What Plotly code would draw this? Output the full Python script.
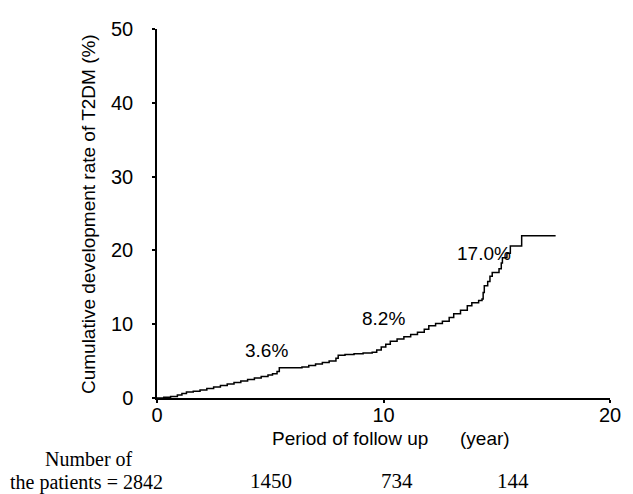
import plotly.graph_objects as go

# Kaplan-Meier style cumulative incidence (step curve)
years = [0, 0.3, 0.6, 0.9, 1.1, 1.3, 1.6, 1.9, 2.2, 2.5, 2.8, 3.1, 3.4, 3.7, 4.0, 4.3,
         4.6, 4.9, 5.1, 5.3, 5.4, 6.0, 6.4, 6.7, 7.0, 7.3, 7.6, 7.9, 8.0, 8.3, 8.7,
         9.1, 9.5, 9.7, 9.9, 10.1, 10.3, 10.6, 10.9, 11.2, 11.5, 11.8, 12.0, 12.3,
         12.6, 12.9, 13.1, 13.4, 13.7, 13.9, 14.2, 14.35, 14.4, 14.45, 14.6, 14.7,
         14.8, 15.1, 15.2, 15.25, 15.45, 15.6, 16.1, 17.6]
rate = [0, 0.1, 0.2, 0.4, 0.6, 0.8, 0.9, 1.1, 1.3, 1.5, 1.7, 1.9, 2.1, 2.3, 2.5, 2.7,
        2.9, 3.1, 3.3, 3.6, 4.1, 4.1, 4.2, 4.4, 4.6, 4.8, 5.0, 5.4, 5.8, 5.9, 6.0,
        6.1, 6.2, 6.5, 6.9, 7.3, 7.7, 8.0, 8.3, 8.6, 8.9, 9.3, 9.8, 10.1,
        10.4, 10.9, 11.4, 11.9, 12.5, 12.9, 13.2, 13.4, 14.3, 15.2, 15.8, 16.5,
        17.0, 17.5, 18.3, 19.0, 19.6, 20.6, 22.0, 22.0]

x_ticks = [0, 10, 20]
y_ticks = [0, 10, 20, 30, 40, 50]

label_texts = ["3.6%", "8.2%", "17.0%"]
label_x = [4.82, 9.98, 14.45]
label_y = [6.4, 10.8, 19.6]

patients_label = ["Number of", "the patients = 2842"]
patients_counts = ["1450", "734", "144"]
patients_count_x = [273, 401, 519]

fig = go.Figure()
fig.add_trace(go.Scatter(x=years, y=rate, mode="lines", line_shape="hv",
                         line=dict(color="black", width=1.5), showlegend=False,
                         hoverinfo="skip"))

sans = "Liberation Sans, Arial, sans-serif"
serif = "Liberation Serif, Times New Roman, serif"

for t, x, y in zip(label_texts, label_x, label_y):
    fig.add_annotation(x=x, y=y, xref="x", yref="y", text=t, showarrow=False,
                       xanchor="center", yanchor="middle",
                       font=dict(family=sans, size=19, color="black"))

W, H = 633, 494
L, R, T, B = 157, 16, 29, 96
pw, ph = W - L - R, H - T - B

def px(xp):
    return (xp - L) / pw

def py(yp):
    return (H - B - yp) / ph

def note(xp, yp, text, family, size, angle=0):
    fig.add_annotation(x=px(xp), y=py(yp), xref="paper", yref="paper", text=text,
                       textangle=angle, showarrow=False, xanchor="center",
                       yanchor="middle",
                       font=dict(family=family, size=size, color="black"))

note(88, 214, "Cumulative development rate of T2DM (%)", sans, 19, -90)
note(395, 438, "Period of follow up&nbsp;&nbsp;&nbsp;&nbsp;&nbsp;&nbsp;(year)", sans, 19)
note(88, 459, patients_label[0], serif, 20)
note(85, 482.5, patients_label[1], serif, 20)
for t, xp in zip(patients_counts, patients_count_x):
    note(xp, 481, t, serif, 21)

fig.update_layout(
    width=W, height=H,
    margin=dict(l=L, r=R, t=T, b=B),
    paper_bgcolor="white", plot_bgcolor="white",
    xaxis=dict(range=[0, 20], tickvals=x_ticks, ticktext=[str(v) for v in x_ticks],
               showgrid=False, zeroline=False, showline=True, linecolor="black",
               linewidth=1.5, ticks="outside", ticklen=3, tickwidth=1.5,
               tickcolor="black", ticklabelstandoff=-5,
               tickfont=dict(family=sans, size=20, color="black")),
    yaxis=dict(range=[0, 50], tickvals=y_ticks, ticktext=[str(v) for v in y_ticks],
               showgrid=False, zeroline=False, showline=True, linecolor="black",
               linewidth=1.5, ticks="outside", ticklen=3, tickwidth=1.5,
               tickcolor="black", ticklabelstandoff=15,
               tickfont=dict(family=sans, size=20, color="black")),
)

fig.write_html("out.html", config={"displayModeBar": False},
               post_script="document.body.style.margin='0';")
